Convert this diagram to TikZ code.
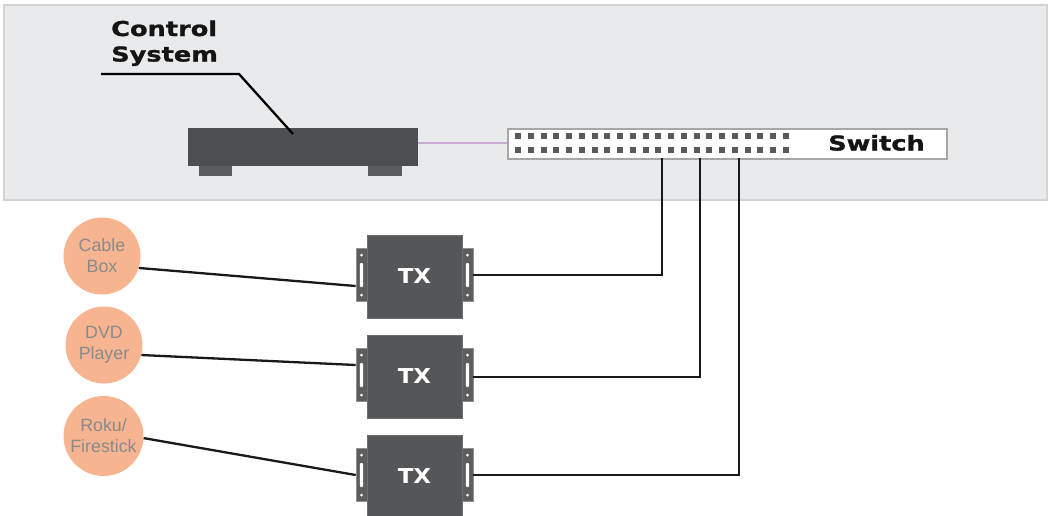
\documentclass[tikz,border=0pt]{standalone}
\usepackage{fontspec}
\setmainfont{Liberation Sans}
\newfontfamily\widebold[FakeStretch=1.25,FakeBold=1.2]{DejaVu Sans Bold}
\newfontfamily\txfont[FakeStretch=1.12]{DejaVu Sans Bold}
\usetikzlibrary{calc}
\definecolor{panelfill}{HTML}{E9EAEC}
\definecolor{panelline}{HTML}{D2D3D5}
\definecolor{device}{HTML}{4D4E50}
\definecolor{txgray}{HTML}{555658}
\definecolor{tabgray}{HTML}{5C5D5F}
\definecolor{tabline}{HTML}{8E8F91}
\definecolor{portgray}{HTML}{58595B}
\definecolor{salmon}{HTML}{F6B491}
\definecolor{srctext}{HTML}{8A8A8A}
\definecolor{cablepurple}{HTML}{C9A8D2}
\tikzset{
  srcnode/.style={circle, fill=salmon, inner sep=0pt, minimum size=77pt, align=center,
    text=srctext, font=\fontsize{17.8}{21}\selectfont},
  txbox/.style={rectangle, fill=txgray, draw=txgray!85!white, line width=0.6pt,
    minimum width=95pt, minimum height=83pt, inner sep=0pt,
    text=white, font=\txfont\fontsize{20.5}{22}\selectfont},
  txtab/.style={rectangle, fill=tabgray, draw=tabline, line width=0.6pt,
    minimum width=11pt, minimum height=53pt, inner sep=0pt},
  wire/.style={line width=2.3pt, draw=black!90},
  biglabel/.style={font=\widebold\fontsize{20.5}{25}\selectfont, inner sep=0pt, anchor=base west, text=black!92}
}
\begin{document}
\begin{tikzpicture}[x=1pt,y=-1pt]
\useasboundingbox (0,0) rectangle (1049,515);
% panel
\node[rectangle, fill=panelfill, draw=panelline, line width=2pt, minimum width=1043pt, minimum height=195pt, inner sep=0pt] (panel) at (525.5,102.5) {};
% control system
\node[rectangle, fill=device, minimum width=230pt, minimum height=38pt, inner sep=0pt] (ctrl) at (303,147) {};
\fill[device!92!white] (199,166) rectangle (232,176);
\fill[device!92!white] (368,166) rectangle (402,176);
\node[biglabel] (ctrllabel) at (111,36) {Control};
\node[biglabel] (ctrllabel2) at (111,61.5) {System};
\coordinate (leadA) at (101,74);
\coordinate (leadB) at (239,74);
\coordinate (leadC) at (293,134);
\draw[line width=2.3pt, line join=miter] (leadA) -- (leadB) -- (leadC);
% switch
\node[rectangle, fill=white, draw=black!35, line width=1.6pt, minimum width=439pt, minimum height=30pt, inner sep=0pt] (sw) at (727.5,144) {};
\foreach \i in {0,...,21}{
  \fill[portgray] ({515+\i*12.76},133) rectangle ++(6,6);
  \fill[portgray] ({515+\i*12.76},147) rectangle ++(6,6);
}
\node[biglabel, anchor=base] (swlabel) at (876.5,150.5) {Switch};
\draw[cablepurple, line width=1.3pt] ($(ctrl.east)+(0,-4)$) -- (sw.west |- 0,143);
% sources
\node[srcnode] (cb) at (102,256) {Cable\\Box};
\node[srcnode] (dvd) at (104,345) {DVD\\Player};
\node[srcnode, minimum size=80pt] (roku) at (103.5,436) {Roku/\\Firestick};
% TX units
\foreach \n/\y in {1/276.5, 2/376.5, 3/476.5}{
  \node[txtab] (tx\n L) at (361.5,\y-1.5) {};
  \node[txtab] (tx\n R) at (467.5,\y-1.5) {};
  \node[txbox] (tx\n) at (414.5,\y) {TX};
  \foreach \t in {L,R}{
    \fill[white, rounded corners=1pt] ($(tx\n\t.center)+(-1.6,-12)$) rectangle ($(tx\n\t.center)+(1.6,12)$);
    \fill[white] ($(tx\n\t.center)+(0,-20)$) circle (1.5);
    \fill[white] ($(tx\n\t.center)+(0,20)$) circle (1.5);
  }
}
% source wires
\draw[wire] (cb.-18) -- ($(tx1L.west)+(0,11)$);
\draw[wire] (dvd.-15) -- ($(tx2L.west)+(0,-10)$);
\draw[wire] (roku.-3) -- ($(tx3L.west)+(0,0)$);
% switch wires
\coordinate (p1) at (662,158);
\coordinate (p2) at (700,158);
\coordinate (p3) at (739,158);
\draw[wire, line join=miter] (p1) |- (tx1R.east);
\draw[wire, line join=miter] (p2) |- ($(tx2R.east)+(0,2)$);
\draw[wire, line join=miter] (p3) |- (tx3R.east);
\end{tikzpicture}
\end{document}
